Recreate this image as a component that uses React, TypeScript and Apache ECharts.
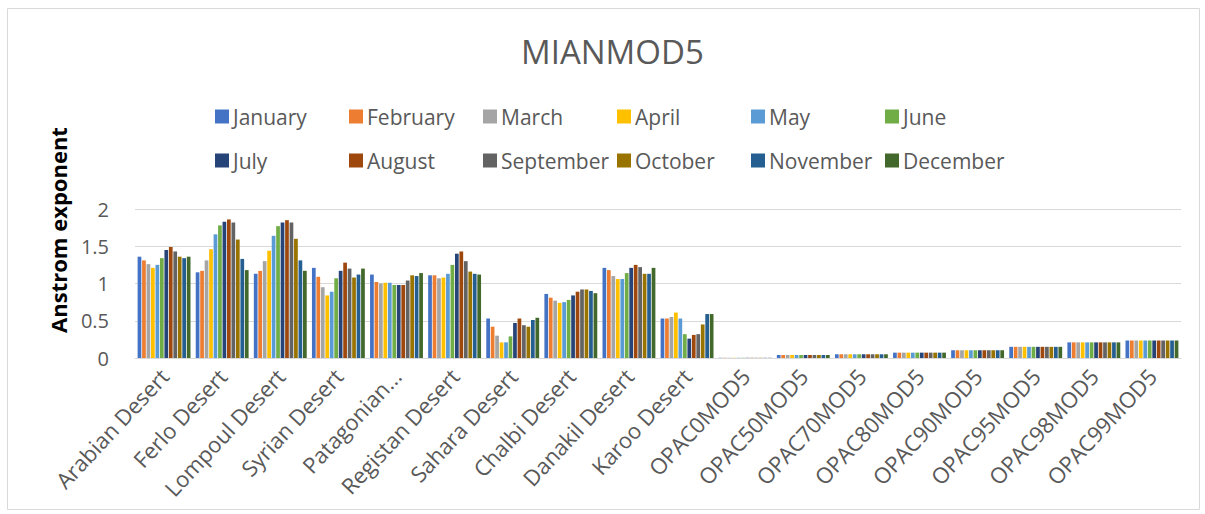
import React, { useEffect, useRef } from "react";
import * as echarts from "echarts";

const categories = [
  "Arabian Desert", "Ferlo Desert", "Lompoul Desert", "Syrian Desert", "Patagonian Desert",
  "Registan Desert", "Sahara Desert", "Chalbi Desert", "Danakil Desert", "Karoo Desert",
  "OPAC0MOD5", "OPAC50MOD5", "OPAC70MOD5", "OPAC80MOD5", "OPAC90MOD5", "OPAC95MOD5", "OPAC98MOD5", "OPAC99MOD5",
];

const months = ["January", "February", "March", "April", "May", "June",
  "July", "August", "September", "October", "November", "December"];

const colors = ["#4472C4", "#ED7D31", "#A5A5A5", "#FFC000", "#5B9BD5", "#70AD47",
  "#264478", "#9E480E", "#636363", "#997300", "#255E91", "#43682B"];

const january = [1.36, 1.15, 1.13, 1.21, 1.12, 1.11, 0.53, 0.86, 1.21, 0.53, 0.003, 0.04, 0.05, 0.072, 0.104, 0.15, 0.21, 0.235];
const february = [1.31, 1.17, 1.17, 1.09, 1.02, 1.11, 0.42, 0.81, 1.18, 0.53, 0.003, 0.04, 0.05, 0.072, 0.104, 0.15, 0.21, 0.235];
const march = [1.26, 1.31, 1.30, 0.95, 1.00, 1.07, 0.30, 0.77, 1.10, 0.55, 0.003, 0.04, 0.05, 0.072, 0.104, 0.15, 0.21, 0.235];
const april = [1.21, 1.46, 1.44, 0.84, 1.01, 1.08, 0.21, 0.74, 1.06, 0.61, 0.003, 0.04, 0.05, 0.072, 0.104, 0.15, 0.21, 0.235];
const may = [1.25, 1.66, 1.64, 0.89, 1.01, 1.13, 0.21, 0.75, 1.06, 0.53, 0.003, 0.04, 0.05, 0.072, 0.104, 0.15, 0.21, 0.235];
const june = [1.34, 1.78, 1.77, 1.07, 0.98, 1.25, 0.29, 0.78, 1.14, 0.32, 0.003, 0.04, 0.05, 0.072, 0.104, 0.15, 0.21, 0.235];
const july = [1.45, 1.83, 1.82, 1.17, 0.98, 1.40, 0.47, 0.84, 1.21, 0.26, 0.003, 0.04, 0.05, 0.072, 0.104, 0.15, 0.21, 0.235];
const august = [1.49, 1.86, 1.85, 1.28, 0.98, 1.43, 0.53, 0.89, 1.25, 0.31, 0.003, 0.04, 0.05, 0.072, 0.104, 0.15, 0.21, 0.235];
const september = [1.43, 1.82, 1.82, 1.20, 1.04, 1.30, 0.44, 0.92, 1.22, 0.32, 0.003, 0.04, 0.05, 0.072, 0.104, 0.15, 0.21, 0.235];
const october = [1.36, 1.59, 1.60, 1.08, 1.11, 1.16, 0.42, 0.92, 1.13, 0.45, 0.003, 0.04, 0.05, 0.072, 0.104, 0.15, 0.21, 0.235];
const november = [1.34, 1.33, 1.31, 1.12, 1.10, 1.13, 0.51, 0.90, 1.13, 0.59, 0.003, 0.04, 0.05, 0.072, 0.104, 0.15, 0.21, 0.235];
const december = [1.36, 1.18, 1.17, 1.20, 1.14, 1.12, 0.54, 0.87, 1.21, 0.59, 0.003, 0.04, 0.05, 0.072, 0.104, 0.15, 0.21, 0.235];

const monthValues = [january, february, march, april, may, june, july, august, september, october, november, december];

const yTicks = { min: 0, max: 2, interval: 0.5 };

const FONT = "'Open Sans', 'Noto Sans', sans-serif";
const GREY = "#595959";

export default function App() {
  const ref = useRef<HTMLDivElement>(null);
  useEffect(() => {
    if (!ref.current) return;
    const chart = echarts.init(ref.current, undefined, { renderer: "svg" });
    const legends = months.map((m, i) => ({
      show: true,
      data: [m],
      left: 215 + (i % 6) * 134,
      top: i < 6 ? 106 : 150,
      icon: "rect",
      itemWidth: 14,
      itemHeight: 14,
      itemGap: 0,
      padding: 0,
      selectedMode: false,
      textStyle: { color: GREY, fontSize: 21, fontFamily: FONT, padding: [0, 0, 0, -1] },
    }));
    chart.setOption({
      animation: false,
      color: colors,
      textStyle: { fontFamily: FONT },
      title: {
        text: "MIANMOD5",
        left: 516,
        top: 30,
        textStyle: { color: GREY, fontSize: 33, fontWeight: "normal", fontFamily: FONT },
      },
      legend: legends,
      graphic: [
        {
          type: "rect",
          shape: { x: 7.5, y: 8.5, width: 1192, height: 501 },
          style: { fill: "none", stroke: "#d9d9d9", lineWidth: 1 },
          silent: true,
        },
        {
          type: "text",
          x: 58,
          y: 230,
          rotation: Math.PI / 2,
          style: {
            text: "Anstrom exponent",
            fill: "#000",
            font: `bold 22px ${FONT}`,
            align: "center",
            verticalAlign: "middle",
          },
          silent: true,
        },
      ],
      grid: { left: 135, right: 24, top: 209, bottom: 156, containLabel: false },
      xAxis: {
        type: "category",
        data: categories,
        axisLine: { show: true, lineStyle: { color: "#d9d9d9", width: 1 } },
        axisTick: { show: false },
        axisLabel: {
          rotate: 47,
          interval: 0,
          margin: 14,
          color: GREY,
          fontSize: 22,
          fontFamily: FONT,
          formatter: (v: string) => (v === "Patagonian Desert" ? "Patagonian..." : v),
        },
      },
      yAxis: {
        type: "value",
        min: yTicks.min,
        max: yTicks.max,
        interval: yTicks.interval,
        axisLine: { show: false },
        axisTick: { show: false },
        axisLabel: { color: GREY, fontSize: 20, margin: 26, fontFamily: FONT },
        splitLine: { lineStyle: { color: "#d9d9d9", width: 1 } },
      },
      series: months.map((m, i) => ({
        name: m,
        type: "bar",
        data: monthValues[i],
        barGap: "20%",
        barCategoryGap: "9%",
        itemStyle: { color: colors[i] },
      })),
    });
    return () => chart.dispose();
  }, []);
  return (
    <div
      ref={ref}
      style={{ position: "fixed", left: 0, top: 0, width: 1205, height: 514, background: "#fff" }}
    />
  );
}
